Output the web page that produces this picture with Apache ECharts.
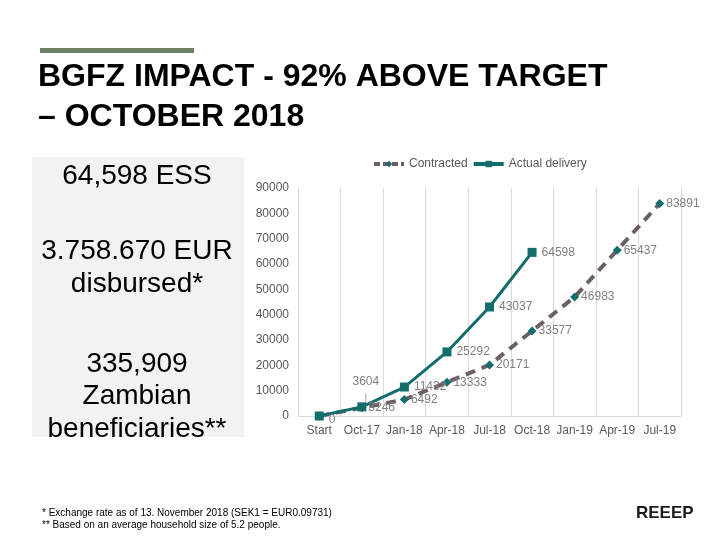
<!DOCTYPE html>
<html>
<head>
<meta charset="utf-8">
<script src="https://cdn.jsdelivr.net/npm/echarts@6/dist/echarts.min.js"></script>
<style>
	html, body { margin: 0; padding: 0; background: #fff; }
	#main { width: 720px; height: 540px; }
</style>
</head>
<body>
<div id="main"></div>
<script>
// chart data
var categories = ['Start', 'Oct-17', 'Jan-18', 'Apr-18', 'Jul-18', 'Oct-18', 'Jan-19', 'Apr-19', 'Jul-19'];
var contracted = [0, 3246, 6492, 13333, 20171, 33577, 46983, 65437, 83891];
var actualDelivery = [0, 3604, 11432, 25292, 43037, 64598];
var yTicks = [0, 10000, 20000, 30000, 40000, 50000, 60000, 70000, 80000, 90000];

var titleLines = ['BGFZ IMPACT - 92% ABOVE TARGET', '\u2013 OCTOBER 2018'];
var boxLines = ['64,598 ESS', '3.758.670 EUR\ndisbursed*', '335,909\nZambian\nbeneficiaries**'];
var footnotes = ['* Exchange rate as of 13. November 2018 (SEK1 = EUR0.09731)', '** Based on an average household size of 5.2 people.'];

var teal = '#136d6c';
var dashGrey = '#6d5e66';
var labelGrey = '#7f7f7f';
var font = '"Liberation Sans", Arial, sans-serif';

var chart = echarts.init(document.getElementById('main'));

var contractedData = contracted.map(function (v, i) {
	if (i === 0) return { value: v, label: { show: false } };
	return v;
});
var actualData = actualDelivery.map(function (v, i) {
	if (i === 1) {
		// label pulled up with a small leader line, like the original
		return { value: v, label: { position: 'top', offset: [4, -10] }, labelLine: { show: true } };
	}
	if (i === 0) {
		return { value: v, label: { offset: [0, 4] } };
	}
	return v;
});

var option = {
	animation: false,
	backgroundColor: '#ffffff',
	textStyle: { fontFamily: font },
	grid: { left: 298, right: 39, top: 188, bottom: 124 },
	legend: {
		top: 153,
		left: 367,
		itemGap: 4,
		itemWidth: 30,
		itemHeight: 8,
		textStyle: { color: '#595959', fontSize: 12, fontFamily: font },
		data: [
			{ name: 'Contracted', lineStyle: { width: 4, color: dashGrey, type: [6, 3] } },
			{ name: 'Actual delivery', lineStyle: { width: 4, color: teal } }
		]
	},
	xAxis: {
		type: 'category',
		data: categories,
		boundaryGap: true,
		axisLine: { lineStyle: { color: '#d9d9d9', width: 1 } },
		axisTick: { show: false },
		splitLine: { show: true, lineStyle: { color: '#d9d9d9', width: 1 } },
		axisLabel: { color: '#595959', fontSize: 12, margin: 9, fontFamily: font, interval: 0 }
	},
	yAxis: {
		type: 'value',
		min: yTicks[0],
		max: yTicks[yTicks.length - 1],
		interval: 10000,
		axisLine: { show: false },
		axisTick: { show: false },
		splitLine: { show: false },
		axisLabel: { color: '#595959', fontSize: 12, margin: 9, fontFamily: font, formatter: function (v) { return String(v); } }
	},
	series: [
		{
			name: 'Contracted',
			type: 'line',
			data: contractedData,
			symbol: 'diamond',
			symbolSize: 9,
			itemStyle: { color: teal },
			lineStyle: { color: dashGrey, width: 4, type: [10, 7] },
			label: { show: true, position: 'right', distance: 2, color: labelGrey, fontSize: 12, fontFamily: font }
		},
		{
			name: 'Actual delivery',
			type: 'line',
			data: actualData,
			symbol: 'rect',
			symbolSize: 9,
			itemStyle: { color: teal },
			lineStyle: { color: teal, width: 3 },
			labelLine: { lineStyle: { color: '#a6a6a6', width: 1 } },
			label: { show: true, position: 'right', distance: 5, color: labelGrey, fontSize: 12, fontFamily: font }
		}
	],
	graphic: [
		{ type: 'rect', left: 40, top: 48, shape: { width: 154, height: 5 }, style: { fill: '#6b8162' } },
		{ type: 'text', left: 38, top: 61, style: { text: titleLines[0], font: 'bold 32px ' + font, fill: '#000' } },
		{ type: 'text', left: 38, top: 101, style: { text: titleLines[1], font: 'bold 32px ' + font, fill: '#000' } },
		{ type: 'rect', left: 32, top: 157, shape: { width: 212, height: 280 }, style: { fill: '#f2f2f2' } },
		{ type: 'text', x: 137, y: 160, style: { text: boxLines[0], font: '28px ' + font, fill: '#000', align: 'center', lineHeight: 33 } },
		{ type: 'text', x: 137, y: 235, style: { text: boxLines[1], font: '28px ' + font, fill: '#000', align: 'center', lineHeight: 33 } },
		{ type: 'text', x: 137, y: 348, style: { text: boxLines[2], font: '28px ' + font, fill: '#000', align: 'center', lineHeight: 32.5 } },
		{ type: 'text', left: 42, top: 507, style: { text: footnotes.join('\n'), font: '10px ' + font, fill: '#000', lineHeight: 12 } },
		{ type: 'text', left: 636, top: 505, style: { text: 'REEEP', font: 'bold 17px ' + font, fill: '#1a1a1a' } }
	]
};

chart.setOption(option);
</script>
</body>
</html>
